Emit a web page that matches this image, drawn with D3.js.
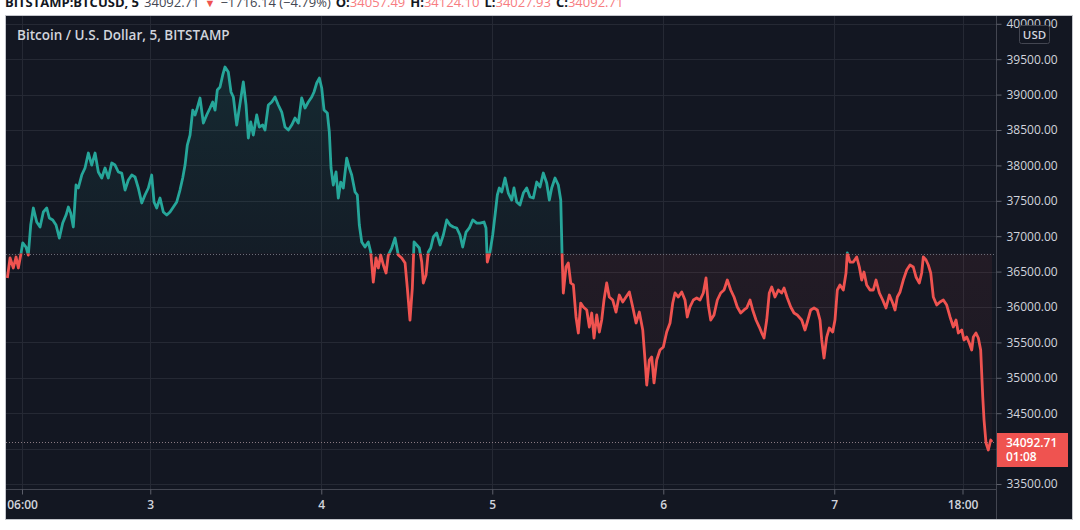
<!DOCTYPE html>
<html><head><meta charset="utf-8">
<script src="https://cdn.jsdelivr.net/npm/d3@7"></script>
<style>
body{margin:0;background:#ffffff;}
svg{display:block;}
text{font-family:"Open Sans","Noto Sans",sans-serif;}
</style>
</head><body>
<svg id="chart" width="1080" height="530"></svg>
<script>
// ---- data (BTC/USD, Bitstamp, 5-min, June 2021) ----
// hours since 2021-06-02 00:00
const hours = [3.94,4.32,4.78,5.16,5.48,5.82,6.10,6.56,6.88,7.22,7.59,8.06,8.53,8.99,9.47,9.83,10.31,10.77,11.24,11.71,12.18,12.50,12.83,13.20,13.58,13.90,14.38,14.84,15.31,15.78,16.25,16.71,17.19,17.65,18.11,18.59,19.05,19.52,19.99,20.46,20.92,21.40,21.86,22.32,22.80,23.26,23.73,24.20,24.53,24.90,25.37,25.83,26.31,26.77,27.24,27.71,28.17,28.55,28.88,29.20,29.58,29.96,30.28,30.60,30.98,31.45,31.92,32.39,32.76,33.09,33.41,33.79,34.17,34.49,34.95,35.33,35.66,36.13,36.50,37.06,37.44,37.76,38.10,38.46,38.94,39.30,39.78,40.10,40.57,41.05,41.51,41.97,42.45,42.91,43.38,43.85,44.31,44.78,45.25,45.72,46.18,46.66,46.98,47.36,47.73,48.06,48.39,48.85,49.13,49.37,49.69,50.07,50.39,50.73,51.09,51.57,51.94,52.27,52.74,53.06,53.34,53.68,54.14,54.60,54.94,55.30,55.68,56.01,56.34,56.71,57.09,57.41,57.89,58.35,58.81,59.29,59.76,60.08,60.45,60.78,61.02,61.40,61.76,62.10,62.32,62.70,63.02,63.36,63.73,64.20,64.67,65.13,65.61,66.07,66.53,67.01,67.47,67.85,68.32,68.78,69.26,69.82,70.28,70.84,71.12,71.30,71.68,72.06,72.39,72.71,72.99,73.33,73.79,74.25,74.73,75.05,75.43,75.89,76.36,76.83,77.30,77.76,78.24,78.70,79.16,79.64,80.01,80.34,80.81,81.27,81.61,81.79,81.97,82.35,82.67,83.01,83.38,83.75,84.08,84.41,84.78,85.26,85.62,85.96,86.28,86.66,87.03,87.36,87.68,88.06,88.42,88.90,89.37,89.83,90.31,90.77,91.24,91.71,92.18,92.64,93.12,93.44,93.68,94.04,94.38,94.70,95.08,95.54,96.01,96.48,96.95,97.33,97.65,98.11,98.59,99.05,99.37,99.75,100.22,100.69,101.16,101.62,102.00,102.32,102.66,103.12,103.59,104.06,104.53,104.99,105.47,105.93,106.39,106.87,107.33,107.71,108.18,108.55,109.02,109.48,109.82,110.14,110.52,110.88,111.22,111.68,112.15,112.62,112.95,113.41,113.89,114.35,114.81,115.43,115.89,116.22,116.69,117.16,117.62,118.00,118.24,118.56,118.94,119.30,119.78,120.10,120.43,120.80,121.27,121.65,121.83,122.21,122.67,123.15,123.52,123.85,124.17,124.55,125.02,125.48,125.86,126.33,126.80,127.26,127.73,128.20,128.53,128.85,129.23,129.69,130.17,130.63,131.09,131.47,131.94,132.27,132.50,132.88,133.20,133.54,133.90,134.38,134.84,135.31,135.78,136.25,136.71,137.09,137.41,137.89,138.21,138.59,138.95,139.29,139.52,139.89,140.22,140.55,140.84,141.02,141.30,141.62,141.96,142.14];
const prices = [36410,36692,36551,36706,36551,36734,36904,36847,36734,37158,37398,37200,37130,37342,37398,37257,37229,37158,36974,37186,37299,37412,37328,37130,37723,37681,37864,37963,38175,38005,38175,37907,37822,37963,37822,38034,38005,37907,37892,37652,37794,37864,37836,37681,37469,37582,37681,37864,37483,37398,37539,37342,37299,37342,37412,37483,37652,37822,38005,38288,38429,38782,38712,38811,38952,38599,38712,38811,38895,38782,39065,39107,39277,39390,39319,39037,38966,38570,38811,39178,38853,38387,38613,38429,38712,38542,38570,38500,38853,38895,38966,38853,38754,38542,38500,38570,38669,38599,38952,38811,38895,38966,39037,39164,39234,39093,38782,38740,38472,37963,37723,37907,37539,37765,37681,38104,37963,37864,37624,37582,37158,36918,36847,36918,36777,36353,36692,36551,36734,36593,36480,36734,36833,36974,36734,36692,36621,36268,35816,36268,36918,36876,36833,36635,36339,36452,36777,36833,36989,37045,36876,37017,37229,37158,37130,37116,37017,36847,37059,37116,37229,37186,37186,37200,37116,36635,36777,37017,37299,37582,37681,37624,37822,37610,37511,37681,37483,37441,37610,37681,37554,37539,37765,37695,37892,37751,37511,37681,37822,37723,37511,36763,36198,36565,36621,36339,36311,35859,35633,36056,36000,35958,35717,35915,35562,35887,35647,35816,36099,36339,36141,36099,35929,36169,36071,36141,36212,36000,35774,35929,35675,35251,34898,35251,35294,34927,35251,35393,35435,35647,35774,36056,36198,36141,36212,36099,35859,36000,36099,36127,36099,36198,36410,36028,35816,35887,36099,36198,36240,36381,36240,36141,36000,35915,35958,35986,36099,35958,35816,35717,35633,35562,35816,36198,36282,36141,36240,36198,36268,36127,36000,35915,35887,35816,35675,35788,35958,35986,35958,35816,35534,35280,35576,35703,35647,35816,36240,36311,36240,36480,36763,36635,36635,36706,36565,36381,36494,36311,36240,36240,36381,36198,36099,35986,36169,36056,35958,36141,36212,36381,36523,36593,36565,36424,36339,36480,36706,36664,36593,36480,36141,36028,36071,36099,36028,35859,35717,35816,35633,35675,35534,35576,35491,35393,35576,35633,35562,35393,34729,34404,34079,33980,34121,34092.71];

const priceTicks = [33500,34000,34500,35000,35500,36000,36500,37000,37500,38000,38500,39000,39500,40000];
const timeTickStrings = ["2021-06-02 06:00","2021-06-03 00:00","2021-06-04 00:00","2021-06-05 00:00","2021-06-06 00:00","2021-06-07 00:00","2021-06-07 18:00"];
const timeTickLabels = ["06:00","3","4","5","6","7","18:00"];
const viewStart = "2021-06-02 03:45";
const viewEnd = "2021-06-07 22:42";
const baseValue = 36755;
const lastPrice = 34092.71;
const barCountdown = "01:08";
const currency = "USD";
const title = "Bitcoin / U.S. Dollar, 5, BITSTAMP";
const headerParts = [
  {t:"BITSTAMP:BTCUSD, 5", k:"label"},
  {t:"34092.71", k:"plain"},
  {t:"▼", k:"down"},
  {t:"−1716.14 (−4.79%)", k:"plain"},
  {t:"O:", k:"label"}, {t:"34057.49", k:"value"},
  {t:"H:", k:"label"}, {t:"34124.10", k:"value"},
  {t:"L:", k:"label"}, {t:"34027.93", k:"value"},
  {t:"C:", k:"label"}, {t:"34092.71", k:"value"}
];

// ---- layout ----
const panel = {x0:6, y0:16, x1:1072, y1:519};
const plot = {x0:6, y0:16, x1:996, y1:489};
const BG = "#131722", GRID = "#252934", TEXT = "#d1d4dc";
const UP = "#26a69a", DOWN = "#ef5350";

const svg = d3.select("#chart");
const parse = d3.timeParse("%Y-%m-%d %H:%M");
const t0 = new Date(2021,5,2,0,0);
const data = d3.zip(hours, prices).map(([h,p]) => ({t:new Date(t0.getTime()+h*3600000), p}));

const x = d3.scaleTime().domain([parse(viewStart), parse(viewEnd)]).range([plot.x0, plot.x1]);
const y = d3.scaleLinear().domain([33500, 40000]).range([484, 484 - 13*35.4]);
const yb = y(baseValue);

// header (outside panel)
const hdr = svg.append("text").attr("x",5).attr("y",7).attr("font-size",13);
headerParts.forEach((d,i) => {
  const ts = hdr.append("tspan").text(d.t);
  if (i>0) ts.attr("dx", (d.k==="value") ? 0 : 5);
  if (d.k==="label") ts.attr("font-weight",700).attr("fill","#131722");
  else if (d.k==="plain") ts.attr("fill","#434651");
  else if (d.k==="down") ts.attr("fill",DOWN).attr("font-size",11);
  else ts.attr("fill","#f77c80");
});

// panel
svg.append("rect").attr("x",panel.x0-0.5).attr("y",panel.y0-0.5)
  .attr("width",panel.x1-panel.x0+1).attr("height",panel.y1-panel.y0+1)
  .attr("fill",BG).attr("stroke","#c4c6cc").attr("stroke-width",1);

const defs = svg.append("defs");
defs.append("clipPath").attr("id","cPlot").append("rect")
  .attr("x",plot.x0).attr("y",plot.y0).attr("width",plot.x1-plot.x0).attr("height",plot.y1-plot.y0);
defs.append("clipPath").attr("id","cUp").append("rect")
  .attr("x",plot.x0).attr("y",plot.y0).attr("width",plot.x1-plot.x0).attr("height",yb-plot.y0);
defs.append("clipPath").attr("id","cDown").append("rect")
  .attr("x",plot.x0).attr("y",yb).attr("width",plot.x1-plot.x0).attr("height",plot.y1-yb);
defs.append("clipPath").attr("id","cPanel").append("rect")
  .attr("x",panel.x0).attr("y",panel.y0).attr("width",panel.x1-panel.x0).attr("height",panel.y1-panel.y0);

const gUp = defs.append("linearGradient").attr("id","gUp").attr("gradientUnits","userSpaceOnUse")
  .attr("x1",0).attr("x2",0).attr("y1",y(d3.max(prices))).attr("y2",yb);
gUp.append("stop").attr("offset","0").attr("stop-color",UP).attr("stop-opacity",0.13);
gUp.append("stop").attr("offset","1").attr("stop-color",UP).attr("stop-opacity",0.04);
const gDn = defs.append("linearGradient").attr("id","gDn").attr("gradientUnits","userSpaceOnUse")
  .attr("x1",0).attr("x2",0).attr("y1",yb).attr("y2",y(d3.min(prices)));
gDn.append("stop").attr("offset","0").attr("stop-color",DOWN).attr("stop-opacity",0.07);
gDn.append("stop").attr("offset","1").attr("stop-color",DOWN).attr("stop-opacity",0.03);

const timeTicks = timeTickStrings.map(parse);

// grid
const grid = svg.append("g").attr("clip-path","url(#cPlot)");
grid.selectAll(".hg").data(priceTicks).join("line")
  .attr("x1",plot.x0).attr("x2",plot.x1)
  .attr("y1",d=>Math.round(y(d))+0.5).attr("y2",d=>Math.round(y(d))+0.5)
  .attr("stroke",GRID).attr("stroke-width",1);
grid.selectAll(".vg").data(timeTicks).join("line")
  .attr("y1",plot.y0).attr("y2",plot.y1)
  .attr("x1",d=>Math.round(x(d))+0.5).attr("x2",d=>Math.round(x(d))+0.5)
  .attr("stroke",GRID).attr("stroke-width",1);

// baseline areas & lines
const area = d3.area().x(d=>x(d.t)).y0(yb).y1(d=>y(d.p));
const line = d3.line().x(d=>x(d.t)).y(d=>y(d.p));
const series = svg.append("g").attr("clip-path","url(#cPlot)");
series.append("path").datum(data).attr("d",area).attr("fill","url(#gUp)").attr("clip-path","url(#cUp)");
series.append("path").datum(data).attr("d",area).attr("fill","url(#gDn)").attr("clip-path","url(#cDown)");

series.append("line").attr("x1",plot.x0).attr("x2",plot.x1).attr("y1",Math.round(yb)+0.5).attr("y2",Math.round(yb)+0.5)
  .attr("stroke","#6a6d78").attr("stroke-dasharray","1,2");
series.append("line").attr("x1",plot.x0).attr("x2",plot.x1).attr("y1",Math.round(y(lastPrice))+0.5).attr("y2",Math.round(y(lastPrice))+0.5)
  .attr("stroke","#8a7a82").attr("stroke-dasharray","1,2");

series.append("path").datum(data).attr("d",line).attr("fill","none").attr("stroke",UP)
  .attr("stroke-width",2.8).attr("stroke-linejoin","round").attr("clip-path","url(#cUp)");
series.append("path").datum(data).attr("d",line).attr("fill","none").attr("stroke",DOWN)
  .attr("stroke-width",2.8).attr("stroke-linejoin","round").attr("clip-path","url(#cDown)");

// title
svg.append("text").attr("x",17).attr("y",35).attr("dy","0.35em").attr("font-size",13.5)
  .attr("font-weight",600).attr("fill",TEXT).text(title);

// axes separators
svg.append("line").attr("x1",plot.x1+0.5).attr("x2",plot.x1+0.5).attr("y1",panel.y0).attr("y2",panel.y1)
  .attr("stroke","#434651");
svg.append("line").attr("x1",panel.x0).attr("x2",plot.x1).attr("y1",plot.y1+0.5).attr("y2",plot.y1+0.5)
  .attr("stroke","#434651");

// y axis (right)
const yLast = y(lastPrice);
const yAxis = d3.axisRight(y).tickValues(priceTicks).tickSize(5).tickPadding(5)
  .tickFormat(d => Math.abs(y(d)-yLast) < 14 ? "" : d3.format(".2f")(d));
const gy = svg.append("g").attr("transform",`translate(${plot.x1+0.5},0)`).call(yAxis);
gy.select(".domain").remove();
gy.selectAll(".tick line").attr("stroke","#5d606b");
gy.selectAll(".tick text").attr("fill",TEXT).attr("font-size",12).attr("font-family",'"Open Sans",sans-serif');

// x axis (bottom), clipped to the panel
const gxWrap = svg.append("g").attr("clip-path","url(#cPanel)");
const xAxis = d3.axisBottom(x).tickValues(timeTicks).tickSize(5).tickPadding(6)
  .tickFormat((d,i)=>timeTickLabels[i]);
const gx = gxWrap.append("g").attr("transform",`translate(0,${plot.y1+0.5})`).call(xAxis);
gx.select(".domain").remove();
gx.selectAll(".tick line").attr("stroke","#5d606b");
gx.selectAll(".tick text").attr("fill",TEXT).attr("font-size",12).attr("font-weight",600).attr("font-family",'"Open Sans",sans-serif');

// currency badge
svg.append("rect").attr("x",1019.5).attr("y",25.5).attr("width",30).attr("height",18).attr("rx",2)
  .attr("fill",BG).attr("stroke","#434651");
svg.append("text").attr("x",1034.5).attr("y",34.5).attr("dy","0.35em").attr("text-anchor","middle")
  .attr("font-size",11.5).attr("font-weight",600).attr("fill",TEXT).text(currency);

// last price label
const lpTop = Math.round(yLast) - 9;
svg.append("rect").attr("x",plot.x1+1).attr("y",lpTop).attr("width",71).attr("height",34).attr("fill",DOWN);
svg.append("text").attr("x",1006).attr("y",lpTop+10).attr("dy","0.35em").attr("font-size",12).attr("font-weight",600)
  .attr("fill","#ffffff").text(d3.format(".2f")(lastPrice));
svg.append("text").attr("x",1006).attr("y",lpTop+24).attr("dy","0.35em").attr("font-size",12).attr("font-weight",600)
  .attr("fill","#ffffff").text(barCountdown);
</script>
</body></html>
